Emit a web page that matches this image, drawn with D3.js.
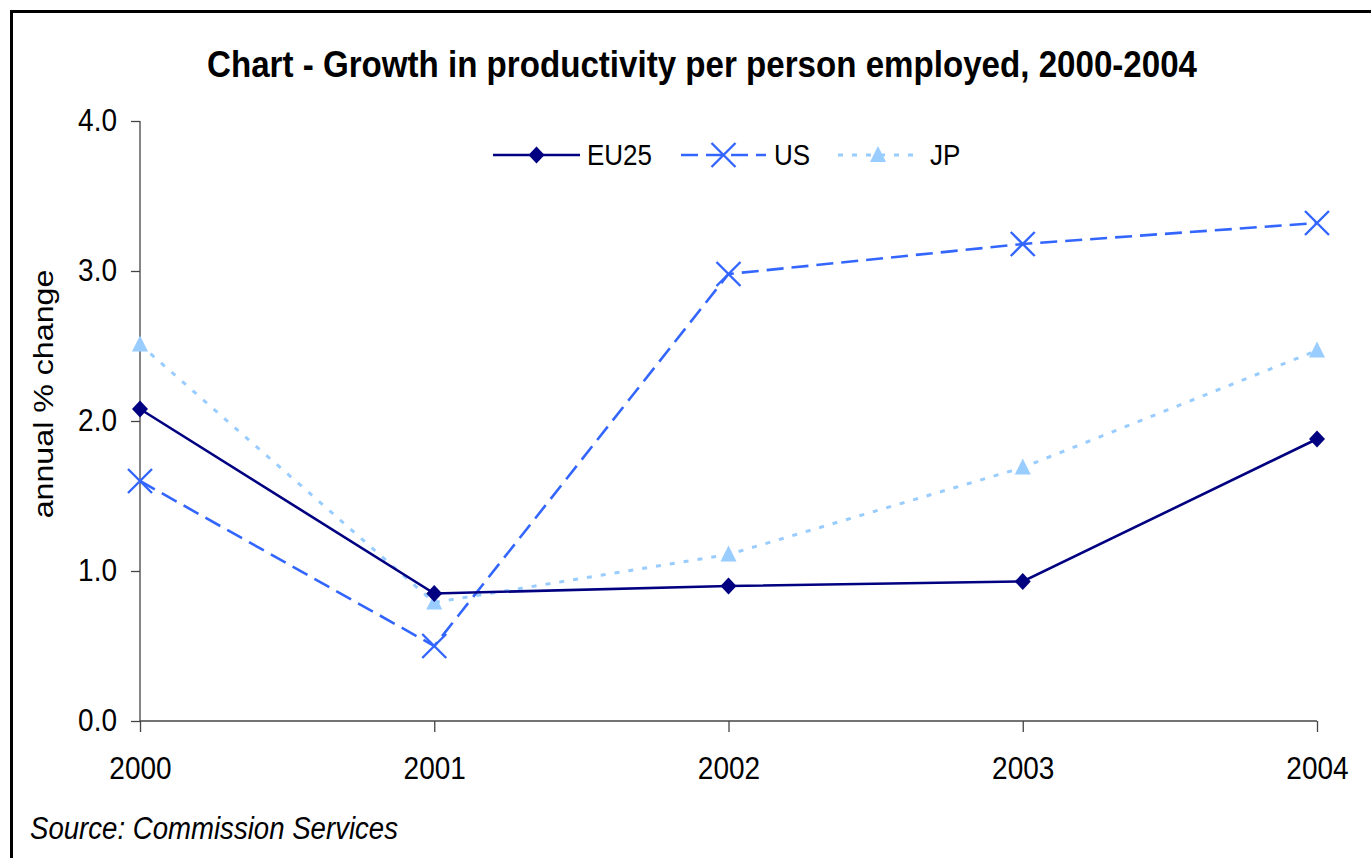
<!DOCTYPE html>
<html><head><meta charset="utf-8">
<script src="https://cdn.jsdelivr.net/npm/d3@7"></script>
<style>body{margin:0;background:#fff}svg{display:block}text{font-family:"Liberation Sans",Arial,sans-serif}</style>
</head><body><svg id="c" width="1371" height="858"></svg>
<script>
const years = ["2000","2001","2002","2003","2004"];
const eu25 = [2.08, 0.85, 0.90, 0.93, 1.88];
const us   = [1.60, 0.50, 2.98, 3.18, 3.32];
const jp   = [2.51, 0.79, 1.11, 1.69, 2.47];
const yTicks = [0, 1, 2, 3, 4];
const seriesNames = ["EU25","US","JP"];
const SY = 1.1; // vertical glyph stretch seen in the reference

const svg = d3.select("#c");
svg.append("rect").attr("x",11.5).attr("y",11.5).attr("width",1400).attr("height",900)
  .attr("fill","none").attr("stroke","#000").attr("stroke-width",3);

const x = d3.scalePoint().domain(years).range([140, 1317]);
const y = d3.scaleLinear().domain([0,4]).range([721, 121]);

function label(px, py, txt, opts){
  const g = svg.append("g").attr("transform",`translate(${px},${py}) scale(1,${SY})${opts.rot?" rotate(-90)":""}`);
  const t = g.append("text").attr("x",0).attr("y",0).attr("font-size",opts.size)
    .attr("text-anchor",opts.anchor||"start").text(txt);
  if(opts.bold) t.attr("font-weight","bold");
  if(opts.italic) t.attr("font-style","italic");
  if(opts.len) t.attr("textLength",opts.len).attr("lengthAdjust","spacingAndGlyphs");
  return t;
}

label(702, 77, "Chart - Growth in productivity per person employed, 2000-2004",
  {size:33, bold:true, anchor:"middle", len:990});

// y axis
const ya = svg.append("g").attr("transform","translate(140,0)")
  .call(d3.axisLeft(y).tickValues(yTicks).tickFormat(d3.format(".1f")).tickSize(9));
ya.select(".domain").attr("stroke","#444").attr("stroke-width",1.3).attr("d","M0,121V721");
ya.selectAll(".tick line").attr("stroke","#444").attr("stroke-width",1.3);
ya.selectAll(".tick text").attr("x",null).attr("y",null).attr("dy",null)
  .attr("transform",`translate(-23,9) scale(1,${SY})`)
  .attr("font-size",28).attr("fill","#000").attr("font-family","Liberation Sans, Arial, sans-serif");

// x axis
const xa = svg.append("g").attr("transform","translate(0,721)")
  .call(d3.axisBottom(x).tickSize(11));
xa.select(".domain").attr("stroke","#444").attr("stroke-width",1.3).attr("d","M140,0H1317");
xa.selectAll(".tick line").attr("stroke","#444").attr("stroke-width",1.3);
xa.selectAll(".tick text").attr("y",null).attr("dy",null)
  .attr("transform",`translate(0,58) scale(1,${SY})`)
  .attr("font-size",28).attr("fill","#000").attr("font-family","Liberation Sans, Arial, sans-serif");

label(53, 394, "annual % change", {size:28, anchor:"middle", rot:true, len:226});
label(30, 839, "Source: Commission Services", {size:28, italic:true, len:368});

const styles = {
  EU25:{color:"#000080", dash:null, width:2.6, data:eu25},
  US:{color:"#3366FF", dash:"17,8", width:2.6, data:us},
  JP:{color:"#99CCFF", dash:"5,9", width:3, data:jp}
};
const line = d3.line().x((d,i)=>x(years[i])).y(d=>y(d));

function marker(g, name, cx, cy){
  const s = styles[name];
  if(name==="EU25"){
    g.append("path").attr("d",`M${cx},${cy-8.5}L${cx+8},${cy}L${cx},${cy+8.5}L${cx-8},${cy}Z`).attr("fill",s.color);
  } else if(name==="US"){
    g.append("path").attr("d",`M${cx-12},${cy-12}L${cx+12},${cy+12}M${cx-12},${cy+12}L${cx+12},${cy-12}`)
      .attr("stroke",s.color).attr("stroke-width",2.4).attr("fill","none");
  } else {
    g.append("path").attr("d",`M${cx},${cy-9}L${cx+8},${cy+7}L${cx-8},${cy+7}Z`).attr("fill",s.color);
  }
}

["JP","US","EU25"].forEach(name=>{
  const s = styles[name];
  const g = svg.append("g");
  g.append("path").datum(s.data).attr("d",line).attr("fill","none")
    .attr("stroke",s.color).attr("stroke-width",s.width).attr("stroke-dasharray",s.dash);
  s.data.forEach((v,i)=>marker(g,name,x(years[i]),y(v)));
});

// legend
const leg = [{n:"EU25",x0:493,x1:580,tx:587},{n:"US",x0:681,x1:766,tx:774},{n:"JP",x0:838,x1:918,tx:930}];
leg.forEach(l=>{
  const s = styles[l.n];
  const g = svg.append("g");
  g.append("line").attr("x1",l.x0).attr("x2",l.x1).attr("y1",155).attr("y2",155)
    .attr("stroke",s.color).attr("stroke-width",s.width).attr("stroke-dasharray",s.dash);
  marker(g,l.n,(l.x0+l.x1)/2,155);
  label(l.tx, 165, l.n, {size:26});
});
</script></body></html>
